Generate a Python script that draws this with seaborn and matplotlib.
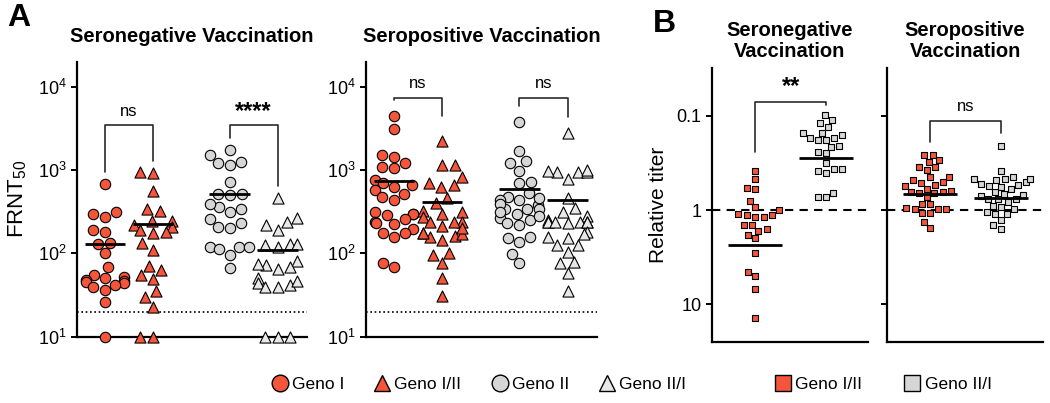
import numpy as np
import pandas as pd
import matplotlib
matplotlib.use("Agg")
import matplotlib.pyplot as plt
from matplotlib.lines import Line2D
from matplotlib.ticker import NullLocator, FixedLocator, FixedFormatter, LogLocator
import seaborn as sns

# ---- data ----
groups = ["Geno I", "Geno I/II", "Geno II", "Geno II/I"]

# Panel A, FRNT50 titers
neg_g1 = [675, 310, 295, 270, 190, 180, 135, 130, 100, 68, 55, 52, 50, 48, 47, 45, 44, 42, 40, 36, 26, 10]
neg_g12 = [940, 920, 565, 340, 320, 245, 245, 210, 220, 180, 190, 175, 133, 110, 71, 63, 55, 49, 35, 30, 23, 10, 10]
neg_g2 = [1750, 1500, 1250, 1200, 1150, 725, 510, 520, 500, 340, 310, 360, 390, 260, 230, 200, 205,
          118, 118, 118, 112, 96, 66]
neg_g21 = [460, 265, 220, 240, 190, 130, 118, 125, 130, 73, 75, 82, 65, 68, 50, 42, 46, 40, 44, 40, 10, 10, 10]

pos_g1 = [4470, 3080, 1500, 1450, 1200, 1050, 1080, 770, 620, 575, 690, 660, 480, 435, 515, 300, 290, 300,
          310, 258, 225, 240, 195, 175, 178, 158, 230, 69, 77]
pos_g12 = [2250, 1150, 1150, 830, 660, 690, 620, 460, 400, 310, 300, 320, 275, 240, 235, 240, 213, 175, 158,
           160, 170, 178, 145, 200, 102, 96, 77, 50, 31]
pos_g2 = [3800, 1700, 1280, 1200, 980, 720, 700, 525, 480, 435, 435, 380, 340, 340, 345, 300, 265, 250, 230,
          220, 460, 390, 310, 280, 155, 158, 138, 98, 76]
pos_g21 = [2800, 950, 960, 960, 980, 1000, 790, 460, 350, 315, 280, 250, 240, 240, 240, 240, 240, 230, 235,
           180, 170, 158, 155, 126, 126, 105, 76, 78, 58, 35]

# Panel B, relative titers
rel_neg_g12 = [0.38, 0.47, 0.58, 0.60, 0.79, 0.92, 1.0, 1.11, 1.13, 1.17, 1.17, 1.12, 1.42, 1.57, 1.45,
               1.82, 1.66, 1.99, 2.84, 5.0, 4.5, 6.9, 13.8]
rel_neg_g21 = [0.098, 0.11, 0.12, 0.13, 0.151, 0.18, 0.158, 0.151, 0.18, 0.17, 0.17, 0.212, 0.209, 0.24,
               0.25, 0.318, 0.38, 0.40, 0.37, 0.37, 0.73, 0.66, 0.72]
rel_pos_g12 = [0.257, 0.257, 0.295, 0.306, 0.35, 0.35, 0.375, 0.44, 0.45, 0.52, 0.50, 0.48, 0.54, 0.64,
               0.655, 0.62, 0.59, 0.66, 0.556, 0.64, 0.72, 0.86, 0.85, 0.98, 0.95, 0.97, 0.97, 1.08, 1.08,
               1.34, 1.53]
rel_pos_g21 = [0.207, 0.385, 0.47, 0.50, 0.48, 0.47, 0.47, 0.45, 0.53, 0.555, 0.54, 0.565, 0.60, 0.64, 0.68,
               0.69, 0.70, 0.77, 0.76, 0.77, 0.82, 0.905, 0.98, 0.92, 1.10, 1.04, 1.10, 1.26, 1.45, 1.57]

sig_a_neg = ["ns", "****"]
sig_a_pos = ["ns", "ns"]
sig_b = ["**", "ns"]
lod = 20

RED = "#F4553B"
GRAY = "#D6D6D6"
TRI = "#E8E8E8"

sns.set_style("ticks")
plt.rcParams["font.family"] = ["Liberation Sans", "DejaVu Sans"]
plt.rcParams["mathtext.fontset"] = "custom"
plt.rcParams["mathtext.rm"] = "Liberation Sans"
plt.rcParams["mathtext.it"] = "Liberation Sans:italic"
plt.rcParams["mathtext.bf"] = "Liberation Sans:bold"
for key in ["text.color", "axes.labelcolor", "xtick.color", "ytick.color", "axes.edgecolor"]:
    plt.rcParams[key] = "black"

fig = plt.figure(figsize=(10.5, 4.03), dpi=100)
axA1 = fig.add_axes([0.0733, 0.1645, 0.219, 0.6825])
axA2 = fig.add_axes([0.3486, 0.1645, 0.220, 0.6825])
axB1 = fig.add_axes([0.678, 0.1514, 0.1486, 0.68])
axB2 = fig.add_axes([0.8448, 0.1514, 0.1486, 0.68])


def swarm(ax, x, vals, marker, color, size, half):
    df = pd.DataFrame({"x": [x] * len(vals), "y": vals})
    sns.swarmplot(data=df, x="x", y="y", native_scale=True, marker=marker, color=color,
                  edgecolor="black", linewidth=0.8, size=size, ax=ax, warn_thresh=1)
    ax.hlines(np.mean(vals), x - half, x + half, color="black", lw=2, zorder=5)


def bracket(ax, x0, x1, y0, top, y1, label, bold, ytext, fs):
    ax.plot([x0, x0, x1, x1], [y0, top, top, y1], color="#2a2a2a", lw=1.2, clip_on=False)
    ax.text((x0 + x1) / 2, ytext, label, ha="center", va="center", fontsize=fs,
            fontweight="bold" if bold else "normal")


def style_axis(ax):
    for s in ["top", "right"]:
        ax.spines[s].set_visible(False)
    for s in ["left", "bottom"]:
        ax.spines[s].set_linewidth(1.6)
        ax.spines[s].set_color("black")
    ax.set_xticks([])
    ax.set_xlabel("")
    ax.set_ylabel("")
    ax.tick_params(axis="y", width=1.4, length=4, labelsize=13, colors="black")
    for c in ax.collections:
        c.set_clip_on(False)


pos = [0, 1, 2.6, 3.6]
panelA = [(axA1, [neg_g1, neg_g12, neg_g2, neg_g21], "Seronegative Vaccination"),
          (axA2, [pos_g1, pos_g12, pos_g2, pos_g21], "Seropositive Vaccination")]
for ax, data, title in panelA:
    ax.set_yscale("log")
    ax.set_ylim(10, 2e4)
    ax.set_xlim(-0.58, 4.21)
    markers = ["o", "^", "o", "^"]
    colors = [RED, RED, GRAY, TRI]
    sizes = [7.5, 8, 7.5, 8]
    for x, vals, m, c, s in zip(pos, data, markers, colors, sizes):
        swarm(ax, x, vals, m, c, s, 0.42)
    ax.axhline(lod, color="black", lw=1.2, ls=(0, (1, 1.6)), zorder=1)
    ax.yaxis.set_major_locator(LogLocator(base=10, numticks=10))
    ax.yaxis.set_minor_locator(NullLocator())
    ax.set_title(title, fontsize=14.5, fontweight="bold", pad=14)
    style_axis(ax)

bracket(axA1, 0, 1, 950, 3450, 1300, sig_a_neg[0], False, 5000, 12)
bracket(axA1, 2.6, 3.6, 2450, 3450, 650, sig_a_neg[1], True, 5000, 17)
bracket(axA2, 0, 1, 7000, 7400, 4400, sig_a_pos[0], False, 10800, 12)
bracket(axA2, 2.6, 3.6, 5800, 7400, 4350, sig_a_pos[1], False, 10800, 12)
axA1.set_ylabel("FRNT$_{50}$", fontsize=16, labelpad=6)

panelB = [(axB1, [rel_neg_g12, rel_neg_g21], "Seronegative\nVaccination"),
          (axB2, [rel_pos_g12, rel_pos_g21], "Seropositive\nVaccination")]
for ax, data, title in panelB:
    ax.set_yscale("log")
    ax.set_ylim(25, 0.031)
    ax.set_xlim(-0.61, 1.59)
    for x, vals, c in zip([0, 1], data, [RED, GRAY]):
        swarm(ax, x, vals, "s", c, 5, 0.38)
    ax.axhline(1, color="black", lw=1.5, ls=(0, (4, 3)), zorder=1)
    ax.yaxis.set_major_locator(FixedLocator([0.1, 1, 10]))
    ax.yaxis.set_minor_locator(NullLocator())
    ax.set_title(title, fontsize=14.5, fontweight="bold", pad=8, linespacing=1.1)
    style_axis(ax)

axB1.yaxis.set_major_formatter(FixedFormatter(["0.1", "1", "10"]))
axB2.yaxis.set_major_formatter(FixedFormatter(["", "", ""]))
axB1.set_ylabel("Relative titer", fontsize=15, labelpad=6)
bracket(axB1, 0, 1, 0.24, 0.072, 0.076, sig_b[0], True, 0.049, 17)
bracket(axB2, 0, 1, 0.187, 0.112, 0.151, sig_b[1], False, 0.079, 12)

fig.text(0.007, 0.955, "A", fontsize=23, fontweight="bold", va="center")
fig.text(0.622, 0.94, "B", fontsize=23, fontweight="bold", va="center")

handlesA = [Line2D([], [], ls="", marker="o", markersize=12, markerfacecolor=RED, markeredgecolor="black"),
            Line2D([], [], ls="", marker="^", markersize=12, markerfacecolor=RED, markeredgecolor="black"),
            Line2D([], [], ls="", marker="o", markersize=12, markerfacecolor=GRAY, markeredgecolor="black"),
            Line2D([], [], ls="", marker="^", markersize=12, markerfacecolor=TRI, markeredgecolor="black")]
fig.legend(handlesA, groups, loc="center", bbox_to_anchor=(0.455, 0.045), ncol=4, frameon=False,
           fontsize=12.5, handletextpad=0.1, columnspacing=1.6, handlelength=1.2)
handlesB = [Line2D([], [], ls="", marker="s", markersize=12, markerfacecolor=RED, markeredgecolor="black"),
            Line2D([], [], ls="", marker="s", markersize=12, markerfacecolor=GRAY, markeredgecolor="black")]
fig.legend(handlesB, [groups[1], groups[3]], loc="center", bbox_to_anchor=(0.84, 0.045), ncol=2,
           frameon=False, fontsize=12.5, handletextpad=0.1, columnspacing=2.3, handlelength=1.2)

fig.savefig("out.png", dpi=100)
